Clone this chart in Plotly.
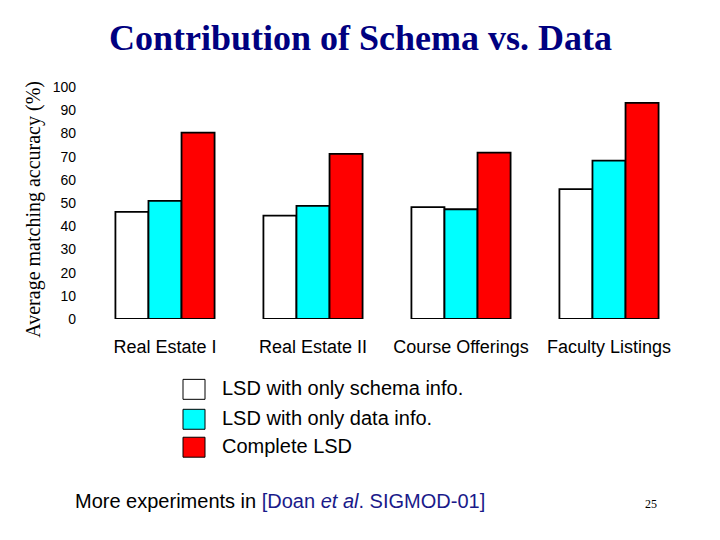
import plotly.graph_objects as go

categories = ["Real Estate I", "Real Estate II", "Course Offerings", "Faculty Listings"]
series_names = ["LSD with only schema info.", "LSD with only data info.", "Complete LSD"]
schema_only = [46.2, 44.6, 48.2, 56.0]
data_only = [50.9, 48.8, 47.3, 68.3]
complete = [80.3, 71.2, 71.7, 93.2]
series_values = [schema_only, data_only, complete]
colors = ["#FFFFFF", "#00FFFF", "#FF0000"]
y_ticks = list(range(0, 101, 10))

# page offset (browser body margin) compensation
OFF = 8
W, H = 720 - OFF, 540 - OFF
L, T = 91 - OFF, 87 - OFF
R = W - (683 - OFF)
B = H - (319.5 - OFF)
pw, ph = W - L - R, H - T - B

def px2x(px):
    return (px - OFF - L) / pw

def py2y(py):
    return (H - B - (py - OFF)) / ph

fig = go.Figure()
for name, vals, col in zip(series_names, series_values, colors):
    fig.add_trace(go.Bar(
        x=categories, y=vals, name=name,
        marker=dict(color=col, line=dict(color="black", width=1.8)),
        showlegend=False,
    ))

legend_tops = [380, 410, 438]
shapes = []
annotations = []
for name, col, top in zip(series_names, colors, legend_tops):
    shapes.append(dict(type="rect", xref="paper", yref="paper",
                       x0=px2x(183), x1=px2x(205), y0=py2y(top + 20), y1=py2y(top),
                       fillcolor=col, line=dict(color="black", width=1)))
    annotations.append(dict(xref="paper", yref="paper", x=px2x(220), y=py2y(top + 9),
                            xanchor="left", yanchor="middle", showarrow=False,
                            text=name, font=dict(family="Liberation Sans", size=20, color="black")))

annotations.append(dict(xref="paper", yref="paper", x=px2x(34), y=py2y(210),
                        xanchor="center", yanchor="middle", showarrow=False, textangle=-90,
                        text="Average matching accuracy (%)",
                        font=dict(family="Liberation Serif", size=20, color="black")))
annotations.append(dict(xref="paper", yref="paper", x=px2x(73), y=py2y(502),
                        xanchor="left", yanchor="middle", showarrow=False,
                        text="More experiments in <span style='color:#1a1a8a'>[Doan <i>et al</i>. SIGMOD-01]</span>",
                        font=dict(family="Liberation Sans", size=20, color="black")))
annotations.append(dict(xref="paper", yref="paper", x=px2x(651), y=py2y(505),
                        xanchor="center", yanchor="middle", showarrow=False,
                        text="25", font=dict(family="Liberation Serif", size=12, color="black")))

fig.update_layout(
    width=W, height=H,
    margin=dict(l=L, r=R, t=T, b=B, autoexpand=False),
    paper_bgcolor="white", plot_bgcolor="white",
    barmode="group", bargap=0.33, bargroupgap=0,
    title=dict(text="<b>Contribution of Schema vs. Data</b>", x=(360.5 - OFF) / W, xanchor="center",
               xref="container", y=1 - (37 - OFF) / H, yanchor="middle", yref="container",
               font=dict(family="Liberation Serif", size=36, color="#000080")),
    xaxis=dict(showline=False, showgrid=False, zeroline=False, ticks="",
               tickfont=dict(family="Liberation Sans", size=18, color="black"),
               ticklabelstandoff=15),
    yaxis=dict(range=[0, 100], tickvals=y_ticks, showline=False, showgrid=False,
               zeroline=False, ticks="",
               tickfont=dict(family="Liberation Sans", size=14, color="black"),
               ticklabelstandoff=14),
    shapes=shapes, annotations=annotations,
)

fig.write_html("out.html")
